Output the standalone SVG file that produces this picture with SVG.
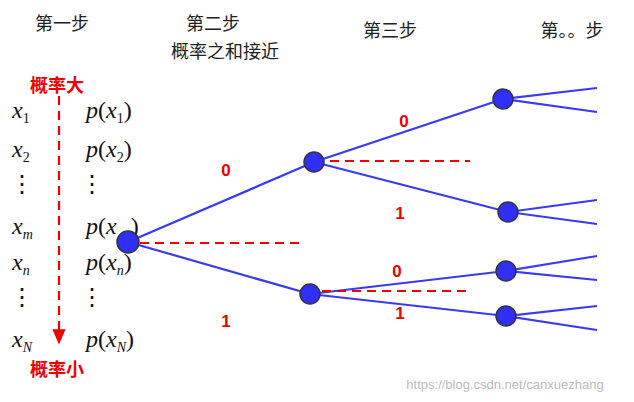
<svg xmlns="http://www.w3.org/2000/svg" width="634" height="402" viewBox="0 0 634 402">
<style>
.h{font-family:"Noto Sans CJK SC",sans-serif;font-size:18px;fill:#222;text-anchor:middle}
.r{font-family:"Noto Sans CJK SC",sans-serif;font-size:18px;font-weight:bold;fill:#e00}
.m{font-family:"Liberation Serif",serif;font-size:24px;fill:#111}
.i{font-style:italic}
.s{font-size:14px}
.l{font-family:"Liberation Sans",sans-serif;font-size:17px;font-weight:bold;fill:#e00;text-anchor:middle}
.e{stroke:#3a3af0;stroke-width:2.2;fill:none}
.d{stroke:#e00;stroke-width:2.2;stroke-dasharray:9,6;fill:none}
.n{fill:#2f2ff5;stroke:#334;stroke-width:1.5}
</style>
<defs><marker id="a" markerWidth="8" markerHeight="8" refX="4" refY="4" orient="auto"><path d="M0,1 L7,4 L0,7z" fill="#e00"/></marker></defs>
<text class="h" x="62" y="30">第一步</text>
<text class="h" x="213" y="30">第二步</text>
<text class="h" x="225" y="58">概率之和接近</text>
<text class="h" x="390" y="37">第三步</text>
<text class="h" x="572" y="37">第。。步</text>
<text class="r" x="30" y="92">概率大</text>
<text class="r" x="30" y="376">概率小</text>
<g class="m">
<text x="12" y="118"><tspan class="i">x</tspan><tspan class="s" dy="5">1</tspan></text>
<text x="86" y="118"><tspan class="i">p</tspan>(<tspan class="i">x</tspan><tspan class="s" dy="5">1</tspan><tspan dy="-5">)</tspan></text>
<text x="12" y="157"><tspan class="i">x</tspan><tspan class="s" dy="5">2</tspan></text>
<text x="86" y="157"><tspan class="i">p</tspan>(<tspan class="i">x</tspan><tspan class="s" dy="5">2</tspan><tspan dy="-5">)</tspan></text>
<text x="10" y="192">⋮</text><text x="80" y="192">⋮</text>
<text x="12" y="234"><tspan class="i">x</tspan><tspan class="s i" dy="5">m</tspan></text>
<text x="86" y="234"><tspan class="i">p</tspan>(<tspan class="i">x</tspan><tspan dx="14">)</tspan></text>
<text x="12" y="270"><tspan class="i">x</tspan><tspan class="s i" dy="5">n</tspan></text>
<text x="86" y="270"><tspan class="i">p</tspan>(<tspan class="i">x</tspan><tspan class="s i" dy="5">n</tspan><tspan dy="-5">)</tspan></text>
<text x="10" y="305">⋮</text><text x="80" y="305">⋮</text>
<text x="12" y="347"><tspan class="i">x</tspan><tspan class="s i" dy="5">N</tspan></text>
<text x="86" y="347"><tspan class="i">p</tspan>(<tspan class="i">x</tspan><tspan class="s i" dy="5">N</tspan><tspan dy="-5">)</tspan></text>
</g>
<g id="connectors">
<line class="d" x1="59" y1="96" x2="59" y2="338" marker-end="url(#a)"/>
<path class="e" d="M128,242 L314,162 M128,242 L310,294 M314,162 L503,99 M314,162 L508,212 M310,294 L506,271 M310,294 L506,316 M503,99 L597,88 M503,99 L597,112 M508,212 L597,200 M508,212 L597,224 M506,271 L597,256 M506,271 L597,280 M506,316 L597,306 M506,316 L597,330"/>
<path class="d" d="M140,243 H300 M330,161 H470 M322,291 H470"/>
<text class="l" x="226" y="176">0</text>
<text class="l" x="226" y="327">1</text>
<text class="l" x="404" y="127">0</text>
<text class="l" x="400" y="219">1</text>
<text class="l" x="397" y="277">0</text>
<text class="l" x="400" y="319">1</text>
</g>
<g id="n0"><circle class="n" cx="128" cy="242" r="11"/></g>
<g id="n1"><circle class="n" cx="314" cy="162" r="10"/></g>
<g id="n2"><circle class="n" cx="310" cy="294" r="10"/></g>
<g id="n3"><circle class="n" cx="503" cy="99" r="10"/></g>
<g id="n4"><circle class="n" cx="508" cy="212" r="10"/></g>
<g id="n5"><circle class="n" cx="506" cy="271" r="10"/></g>
<g id="n6"><circle class="n" cx="506" cy="316" r="10"/></g>
<text x="505" y="389" style="font-family:'Liberation Sans',sans-serif;font-size:13px;fill:#bbb;text-anchor:middle">https://blog.csdn.net/canxuezhang</text>
</svg>
